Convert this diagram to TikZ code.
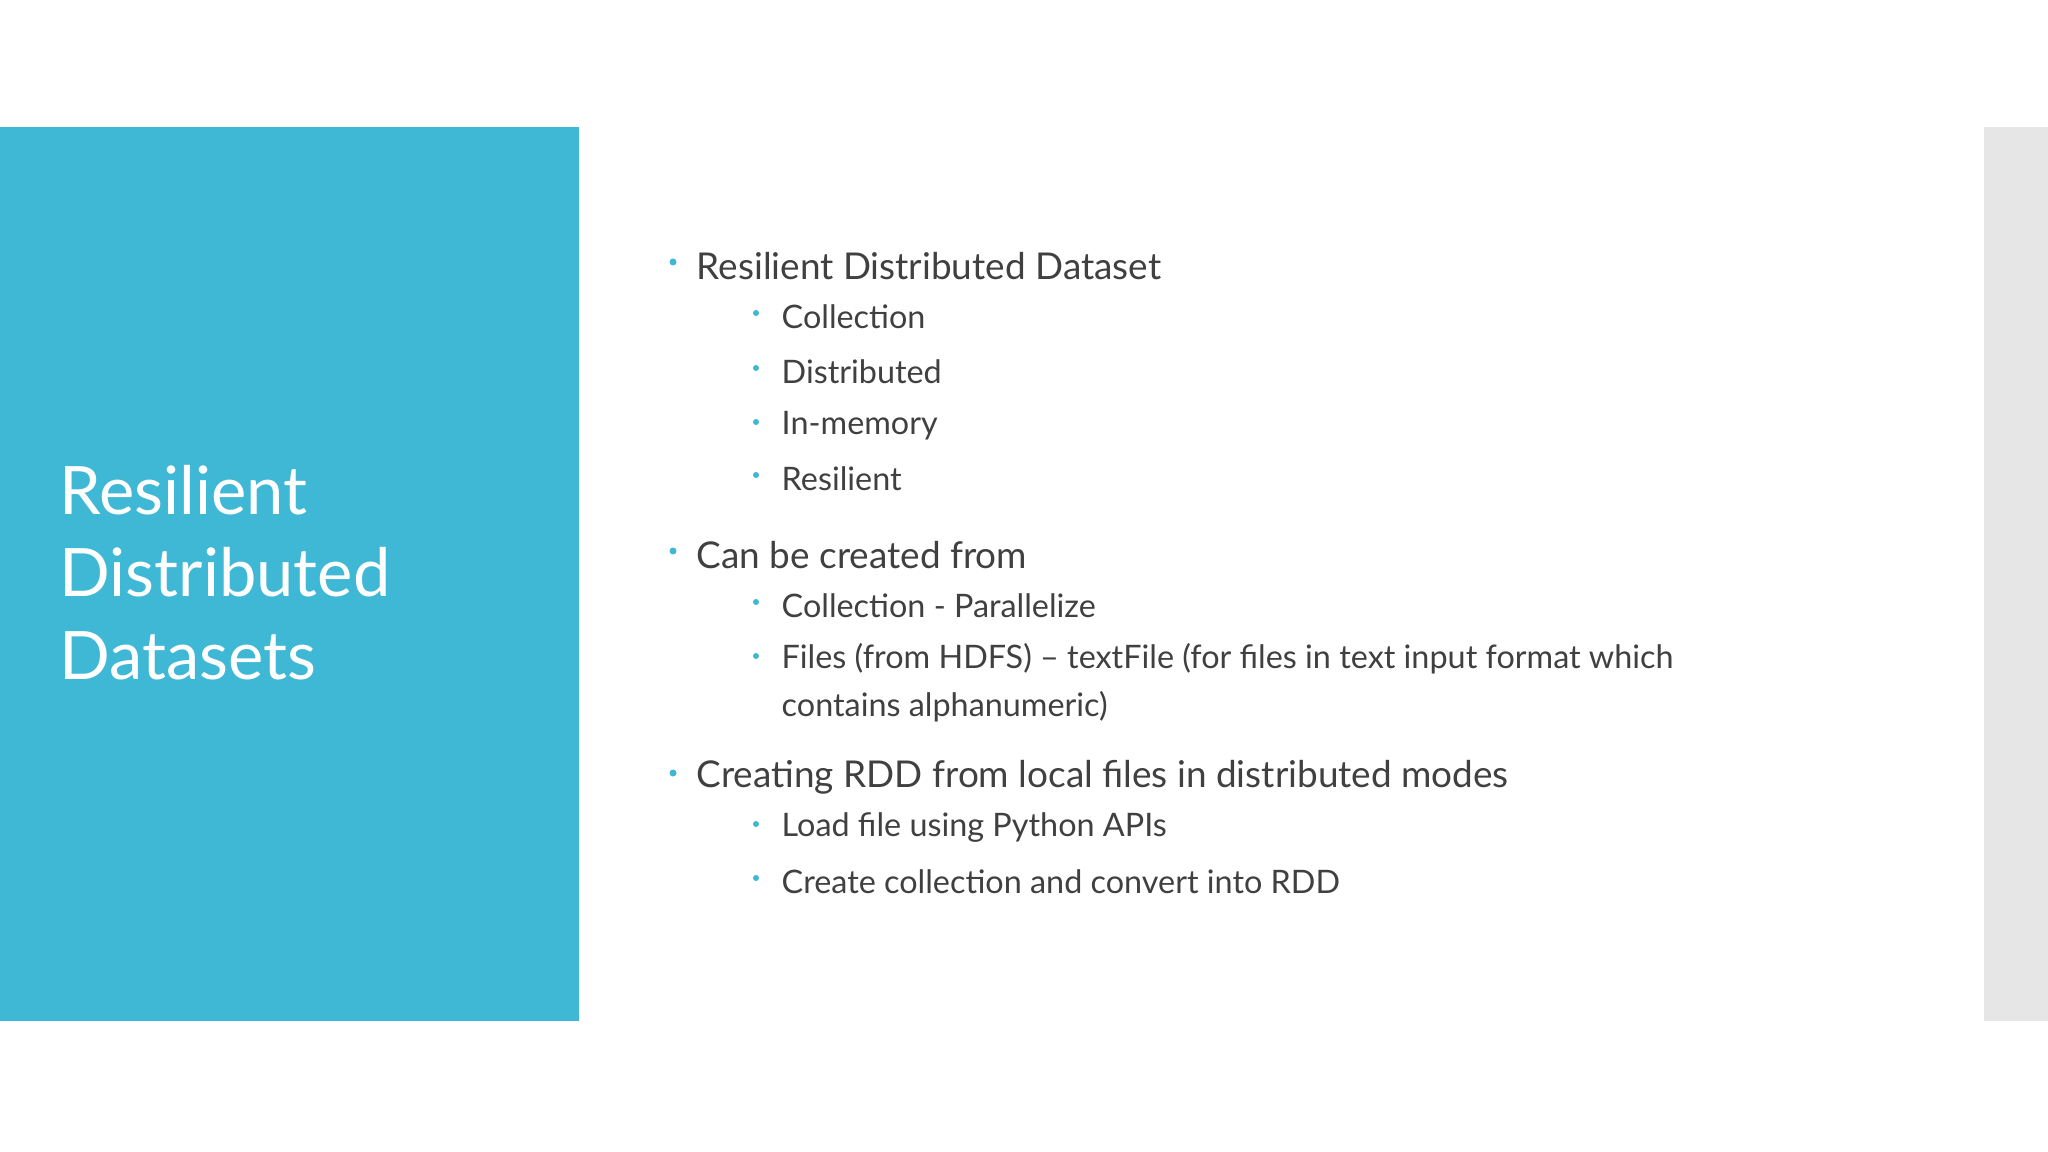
\documentclass[tikz,border=0pt]{standalone}
\usepackage{fontspec}
\setmainfont{Lato}
\definecolor{rblue}{HTML}{3FB8D6}
\definecolor{rgray}{HTML}{E6E6E6}
\definecolor{rtext}{HTML}{404040}
\begin{document}
\begin{tikzpicture}[x=0.01cm,y=-0.01cm,
 title/.style={anchor=west,text=white,font=\fontsize{19}{22}\selectfont,inner sep=0},
 lone/.style={anchor=west,text=rtext,font=\fontsize{10.5}{13}\selectfont,inner sep=0},
 ltwo/.style={anchor=west,text=rtext,font=\fontsize{9.2}{13.5}\selectfont,inner sep=0,align=left},
 dot/.style={circle,fill=rblue,inner sep=0,minimum size=0.07cm}]
\useasboundingbox (0,0) rectangle (2048,1152);
\fill[white] (0,0) rectangle (2048,1152);
\fill[rblue] (0,127) rectangle (579,1021);
\fill[rgray] (1984,127) rectangle (2048,1021);
\node[title] (t1) at (59,490) {Resilient};
\node[title] (t2) at (59,572) {Distributed};
\node[title] (t3) at (59,656) {Datasets};
\foreach \y/\t in {266/Resilient Distributed Dataset,555/Can be created from,777/Creating RDD from local files in distributed modes}{
 \node[dot] at (673,\y-4) {};
 \node[lone] at (696,\y) {\t};
}
\foreach \y/\t in {317/Collection,372/Distributed,426/In-memory,479/Resilient,606/Collection - Parallelize,828/Load file using Python APIs,882/Create collection and convert into RDD}{
 \node[dot,minimum size=0.06cm] at (756,\y-4) {};
 \node[ltwo] at (781,\y) {\t};
}
\node[dot,minimum size=0.06cm] at (756,656) {};
\node[ltwo,anchor=north west] at (781,643) {Files (from HDFS) – textFile (for files in text input format which\\contains alphanumeric)};
\end{tikzpicture}
\end{document}
